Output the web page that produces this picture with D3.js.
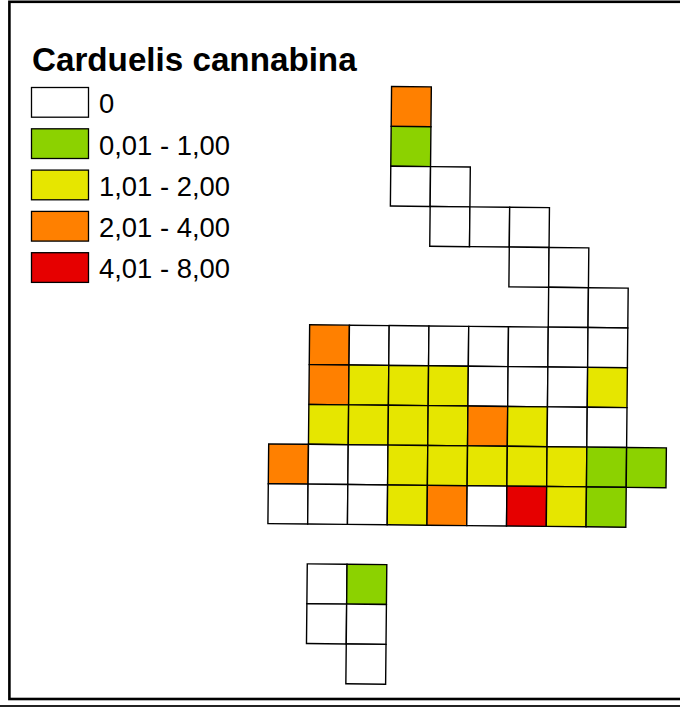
<!DOCTYPE html>
<html>
<head>
<meta charset="utf-8">
<script src="https://d3js.org/d3.v7.min.js"></script>
<style>
  html, body { margin: 0; padding: 0; background: #fff; }
  svg { display: block; font-family: "Liberation Sans", Arial, sans-serif; }
</style>
</head>
<body>
<svg id="map" width="680" height="708"></svg>
<script>
const title = "Carduelis cannabina";
const classLabels = ["0", "0,01 - 1,00", "1,01 - 2,00", "2,01 - 4,00", "4,01 - 8,00"];
const classColors = ["#ffffff", "#8cd200", "#e6e600", "#ff8000", "#e60000"];

// first occupied column of each grid row, then the class of each square
const rowStart = [3, 3, 3, 4, 6, 7, 1, 1, 1, 0, 0, null, 1, 1, 2];
const row00 = [3];
const row01 = [1];
const row02 = [0, 0];
const row03 = [0, 0, 0];
const row04 = [0, 0];
const row05 = [0, 0];
const row06 = [3, 0, 0, 0, 0, 0, 0, 0];
const row07 = [3, 2, 2, 2, 0, 0, 0, 2];
const row08 = [2, 2, 2, 2, 3, 2, 0, 0];
const row09 = [3, 0, 0, 2, 2, 2, 2, 2, 1, 1];
const row10 = [0, 0, 0, 2, 3, 0, 4, 2, 1];
const row11 = [];
const row12 = [0, 1];
const row13 = [0, 0];
const row14 = [0];
const rows = [row00, row01, row02, row03, row04, row05, row06, row07, row08, row09, row10, row11, row12, row13, row14];

const cells = rows.flatMap((vals, r) =>
    vals.map((v, i) => ({ row: r, col: rowStart[r] + i, cls: v })));

const svg = d3.select("#map");

// ── frame ──
svg.append("rect")
    .attr("x", 9.4).attr("y", 1.8)
    .attr("width", 680).attr("height", 697.2)
    .attr("fill", "#fff")
    .attr("stroke", "#000")
    .attr("stroke-width", 2.6);

svg.append("line")
    .attr("x1", 0).attr("x2", 680)
    .attr("y1", 706).attr("y2", 706)
    .attr("stroke", "#222")
    .attr("stroke-width", 2);

// ── grid (sheet is slightly rotated) ──
const x = d3.scaleLinear().domain([0, 10]).range([268.3, 666]);
const y = d3.scaleLinear().domain([0, 15]).range([85.3, 683]);
const color = d3.scaleOrdinal().domain(d3.range(classColors.length)).range(classColors);

const grid = svg.append("g")
    .attr("transform", `rotate(0.57 ${x(0)} ${y(10)})`);

grid.selectAll("rect")
    .data(cells)
    .join("rect")
    .attr("x", d => x(d.col))
    .attr("y", d => y(d.row))
    .attr("width", x(1) - x(0))
    .attr("height", y(1) - y(0))
    .attr("fill", d => color(d.cls))
    .attr("stroke", "#000")
    .attr("stroke-width", 1.4);

// ── legend ──
svg.append("text")
    .attr("x", 32).attr("y", 70.5)
    .attr("font-size", 33.2)
    .attr("font-weight", "bold")
    .text(title);

const legendY = d3.scaleBand().domain(classLabels).range([84, 290.5]);

const legend = svg.append("g").selectAll("g")
    .data(classLabels)
    .join("g")
    .attr("transform", d => `translate(0,${legendY(d)})`);

legend.append("rect")
    .attr("x", 31.5).attr("y", 3.5)
    .attr("width", 57).attr("height", 29.7)
    .attr("fill", (d, i) => classColors[i])
    .attr("stroke", "#000")
    .attr("stroke-width", 1.3);

legend.append("text")
    .attr("x", 99).attr("y", 29.3)
    .attr("font-size", 27.4)
    .text(d => d);
</script>
</body>
</html>
